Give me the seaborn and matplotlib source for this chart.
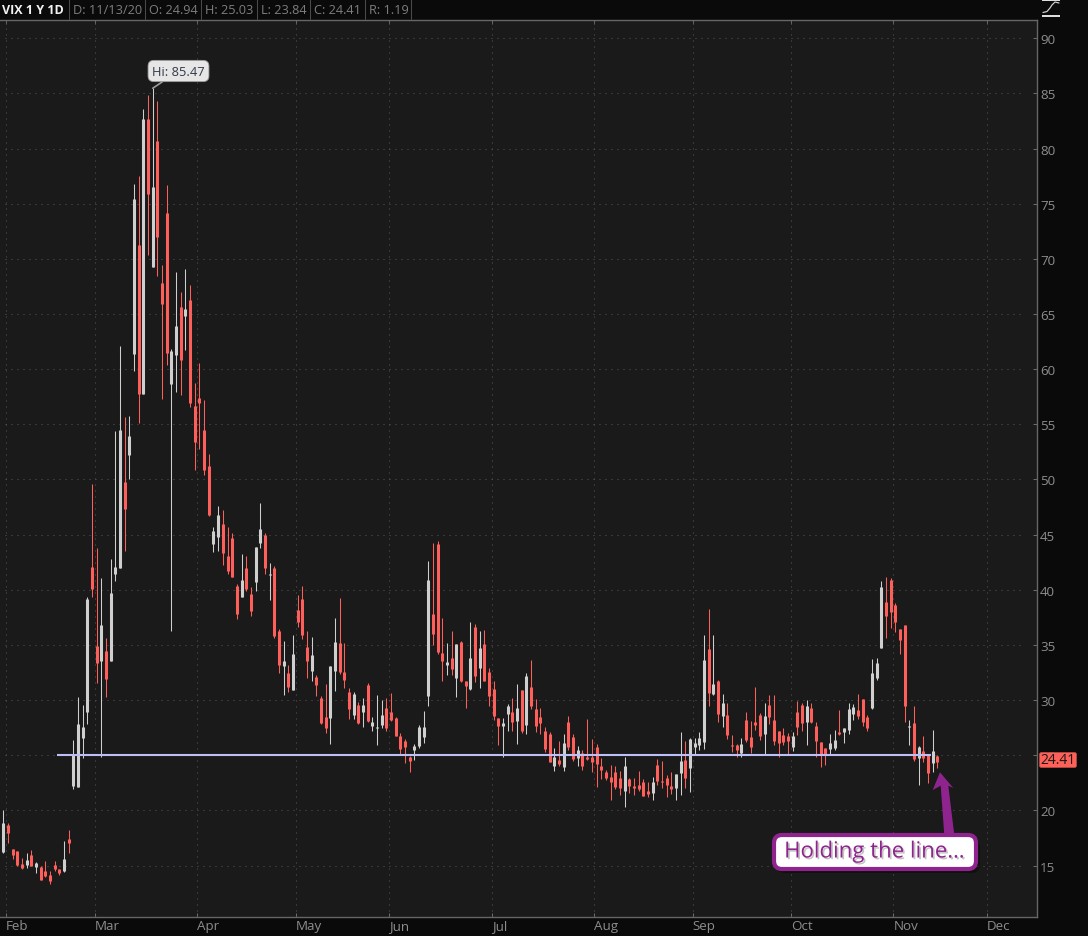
import matplotlib
matplotlib.use("Agg")
import matplotlib.pyplot as plt
import matplotlib.patheffects as pe
from matplotlib.patches import FancyBboxPatch, Polygon, Rectangle
from matplotlib.lines import Line2D
from matplotlib.transforms import Affine2D
import numpy as np
import pandas as pd
import seaborn as sns

# ---- data (VIX daily candles) ----
opens = [16.2,18.67,16.5,16.3,15.12,15.03,15.94,14.85,14.85,14.48,
14.12,15.03,14.67,14.48,17.4,22.2,22.15,26.58,28.88,42.03,
34.94,33.58,34.48,33.58,41.4,41.97,49.76,52.2,61.4,71.3,
57.75,82.67,69.3,80.67,67.85,74.12,58.67,61.3,65.67,64.85,
66.3,56.67,57.4,54.5,51.2,44.12,44.76,45.94,43.03,44.67,
40.3,39.39,41.94,39.58,40.67,44.2,44.94,41.36,41.94,36.3,
33.12,32.48,30.94,38.2,39.2,34.85,32.67,32.12,30.2,28.45,
28.4,32.67,35.2,32.58,30.76,28.67,29.58,28.94,31.4,27.67,
27.5,27.76,29.3,28.94,28.4,26.76,26.3,24.85,25.48,25.85,
26.67,30.4,37.76,44.12,34.3,33.2,33.85,32.03,35.3,31.76,
31.03,36.67,32.94,35.12,32.58,31.03,28.4,27.67,28.76,28.94,
28.12,30.94,27.76,31.2,29.2,28.48,27.2,26.94,24.03,24.58,
23.94,28.03,26.67,24.76,25.2,24.85,24.85,25.76,24.03,23.48,
23.03,23.48,22.94,21.76,22.85,22.2,22.3,22.58,21.76,21.58,
24.12,22.62,22.94,22.2,22.03,23.39,24.58,23.85,25.76,25.94,
26.2,34.67,30.58,31.76,28.58,28.67,25.95,25.94,25.2,28.2,
26.67,28.03,28.67,26.94,29.58,28.2,27.2,26.85,26.76,25.76,
28.94,29.58,28.03,29.3,27.67,26.2,25.67,25.58,25.67,27.12,
27.12,27.3,28.76,29.12,30.12,28.48,29.3,32.03,34.73,38.85,
40.85,38.58,36.48,36.82,27.52,27.9,24.76,25.4,25.0,24.3,
24.94]
highs = [20.0,18.9,16.5,16.3,15.65,16.18,16.45,15.3,14.95,15.45,
14.55,15.45,14.73,17.18,18.18,26.36,30.27,29.55,39.36,49.55,
43.82,41.1,35.64,42.82,54.4,62.12,55.64,55.76,76.82,77.55,
83.58,84.85,85.47,84.27,69.45,76.73,61.85,68.8,67.0,69.1,
67.64,58.73,60.55,57.18,52.27,45.7,47.55,47.27,45.73,45.12,
40.55,43.27,43.03,40.27,43.85,47.85,45.12,42.45,42.12,36.45,
35.36,33.18,35.9,39.5,40.36,36.27,35.73,32.3,30.4,31.45,
33.12,37.48,39.27,35.18,31.1,30.76,29.8,30.2,31.55,28.5,
30.5,29.97,30.15,30.64,28.5,27.0,26.45,24.9,26.03,27.73,
29.03,42.64,44.2,44.45,37.45,35.18,36.24,35.12,35.33,31.76,
37.1,36.9,36.27,36.36,32.9,31.7,28.4,28.36,29.64,30.18,
31.45,30.94,32.45,33.64,30.1,29.3,27.58,27.12,25.64,26.3,
26.9,28.55,26.9,25.82,25.48,28.27,26.45,26.0,24.76,23.67,
24.1,24.0,23.55,24.88,22.94,22.94,23.55,22.82,22.55,23.0,
24.64,24.45,23.18,23.45,23.3,27.1,26.27,26.6,26.55,27.1,
35.9,38.27,35.9,31.8,30.55,29.73,26.82,26.03,26.55,28.9,
28.1,31.18,28.8,29.73,30.45,30.45,27.2,27.45,27.06,27.1,
29.9,29.73,30.03,29.73,27.97,26.2,25.67,26.9,27.3,29.1,
27.48,29.73,29.67,30.55,30.12,28.67,33.73,33.82,40.82,41.18,
41.1,38.82,36.48,36.82,28.15,29.45,25.82,26.7,25.0,27.27,
25.03]
lows = [16.1,17.05,15.6,15.0,14.7,14.8,14.94,14.33,13.67,13.97,
13.33,14.5,14.18,14.42,16.15,21.97,22.15,24.73,27.8,39.36,
31.55,24.88,30.27,33.5,40.82,41.97,43.5,50.0,59.8,55.1,
57.75,70.36,69.3,68.48,57.33,60.42,36.24,57.9,57.64,61.7,
56.55,50.88,52.73,50.4,46.7,43.4,43.5,42.27,41.42,41.12,
37.33,39.33,39.85,37.6,39.85,43.8,41.42,39.06,35.6,32.5,
30.5,30.7,30.94,36.6,35.55,32.0,31.7,30.33,27.85,27.0,
26.0,30.8,32.33,31.06,28.33,28.33,27.8,27.6,27.97,27.2,
25.9,27.45,27.24,28.1,26.7,25.0,24.33,23.5,24.6,25.7,
26.1,29.42,34.97,34.2,31.7,32.24,32.24,30.24,31.6,29.24,
30.94,31.6,31.06,31.76,29.5,28.15,25.9,24.88,27.24,27.24,
26.06,27.06,26.88,29.15,27.15,26.97,25.33,24.36,23.6,24.03,
23.6,25.48,24.48,24.03,23.7,24.58,23.5,22.15,22.85,22.76,
20.97,21.97,21.42,20.27,21.55,21.42,21.8,21.3,21.2,20.94,
22.3,22.03,21.2,21.5,20.94,21.4,22.03,21.67,25.0,25.48,
25.6,29.5,30.48,28.03,27.58,26.48,25.3,24.88,24.8,26.2,
25.24,27.3,26.4,25.1,27.85,25.97,24.88,25.97,25.03,25.36,
26.85,27.24,25.97,27.9,24.88,23.97,24.15,25.12,25.48,26.8,
26.15,26.94,28.2,28.3,27.67,27.2,29.18,31.85,34.73,35.6,
36.55,36.18,34.18,28.0,25.97,24.48,22.33,24.36,22.5,23.5,
23.84]
closes = [18.85,17.97,15.95,15.03,14.82,15.48,14.97,15.2,13.7,14.03,
13.58,14.73,14.3,15.58,17.03,25.03,27.85,27.58,39.2,40.03,
33.4,36.85,31.94,39.67,42.03,54.46,47.3,53.9,75.47,57.75,
82.67,75.85,76.48,71.94,65.94,61.48,61.67,63.88,60.85,65.48,
56.94,53.39,56.9,50.85,46.76,45.3,46.76,43.3,41.67,41.12,
37.76,40.85,40.03,38.12,43.85,45.48,41.94,41.44,35.85,33.2,
33.58,31.2,34.2,37.12,35.94,33.58,34.12,31.4,27.94,27.48,
33.12,35.3,32.58,31.85,29.2,30.58,27.94,29.58,28.12,28.03,
27.6,28.67,27.48,28.2,26.76,25.58,25.76,24.48,25.85,27.58,
27.58,40.85,36.03,34.4,33.58,33.48,32.85,35.12,31.76,31.3,
33.85,32.2,34.76,31.76,30.4,28.58,27.67,27.94,29.48,28.03,
29.3,27.2,32.2,29.48,27.67,27.94,25.58,24.4,24.85,24.18,
26.12,25.76,24.67,25.48,24.03,24.67,24.4,24.2,23.67,22.94,
22.58,22.12,22.03,24.03,22.2,22.03,21.94,21.3,21.48,22.58,
22.67,22.53,22.3,21.94,23.3,24.48,22.94,26.48,26.12,26.58,
33.67,30.67,31.48,28.76,29.76,26.85,25.85,25.48,26.03,26.4,
25.76,27.76,26.76,28.58,28.48,26.3,26.12,26.2,26.3,26.76,
27.58,27.94,29.48,28.03,26.3,25.03,25.03,26.12,26.4,26.94,
27.48,29.2,29.4,28.58,28.03,27.48,32.48,33.39,40.27,37.58,
37.94,37.12,35.48,29.48,27.62,24.67,25.76,24.73,23.39,25.4,
24.41]
month_labels = ["Feb","Mar","Apr","May","Jun","Jul","Aug","Sep","Oct","Nov","Dec"]
month_index = [1,20,42,63,83,105,127,148,169,191,211]
price_ticks = list(range(15, 95, 5))
support_level = 25.02
header_cells = ["D: 11/13/20","O: 24.94","H: 25.03","L: 23.84","C: 24.41","R: 1.19"]

# ---- styling ----
BG, PANEL = "#0a0a0a", "#1a1a1a"
RED, GREY = "#ff5f5a", "#cfcfcf"
PURPLE = "#90248f"
sns.set_theme(style="dark", rc={"axes.facecolor": PANEL, "figure.facecolor": BG})
plt.rcParams["font.family"] = ["Open Sans", "DejaVu Sans"]

fig = plt.figure(figsize=(10.88, 9.37), dpi=100, facecolor=BG)
ax = fig.add_axes([0, (937-917.5)/937, 1036.5/1088, (917.5-20.5)/937])
ax.set_facecolor(PANEL)
px = Affine2D().scale(1/1088, -1/937).translate(0, 1) + fig.transFigure

# long tables for seaborn
n = len(opens)
idx = np.arange(n)
o, h, l, c = map(np.array, (opens, highs, lows, closes))
kind = np.where(c >= o, "up", "down")
wicks = pd.DataFrame({"i": np.r_[idx, idx], "price": np.r_[l, h], "kind": np.r_[kind, kind]})
bodies = pd.DataFrame({"i": np.r_[idx, idx], "price": np.r_[o, c], "kind": np.r_[kind, kind]})
pal = {"up": GREY, "down": RED}

# grid (behind the candles)
grid_kw = dict(colors="#565656", linewidth=0.72, linestyles=[(0, (1, 5))], zorder=1)
ax.hlines(price_ticks, 0.4, 218.5, **grid_kw)
ax.vlines(np.array(month_index) - 0.43, 10.38, 91.7, **grid_kw)

sns.lineplot(data=wicks, x="i", y="price", hue="kind", units="i", estimator=None, sort=False,
             palette=pal, lw=0.75, legend=False, ax=ax, solid_capstyle="butt", zorder=3)
sns.lineplot(data=bodies, x="i", y="price", hue="kind", units="i", estimator=None, sort=False,
             palette=pal, lw=2.2, legend=False, ax=ax, solid_capstyle="butt", zorder=4)

ax.hlines(support_level, 11.5, 198.6, colors="#bcbff8", linewidth=1.5, zorder=5)

ax.set_xlim(-0.707, 221.2)
ax.set_ylim(10.38, 91.7)
ax.set_xlabel(""); ax.set_ylabel("")
ax.yaxis.tick_right()
ax.set_yticks(price_ticks)
ax.set_yticklabels([str(v) for v in price_ticks])
ax.set_xticks(np.array(month_index) - 0.43)
ax.set_xticklabels(month_labels, ha="left")
ax.tick_params(axis="y", direction="in", length=3, width=0.75, color="#6a6a6a",
               labelcolor="#8d8d8d", labelsize=9.6, pad=2.5, right=True, left=False)
ax.tick_params(axis="x", direction="in", length=3, width=0.75, color="#6a6a6a",
               labelcolor="#8d8d8d", labelsize=9.6, pad=1.5, bottom=True, top=True)
for s in ax.spines.values():
    s.set_visible(False)
for s in ("top", "bottom", "right"):
    ax.spines[s].set_visible(True)
    ax.spines[s].set_color("#666666")
    ax.spines[s].set_linewidth(1.0)

# high-of-range callout
ax.annotate("Hi: 85.47", xy=(32, 85.47), xycoords="data", xytext=(178.5, 72), textcoords=px,
            ha="center", va="center", fontsize=9.3, color="#33394a", zorder=8,
            bbox=dict(boxstyle="round,pad=0.32,rounding_size=0.45", fc="#e6e6e6", ec="#9a9a9a", lw=0.6),
            arrowprops=dict(arrowstyle="-", color="#9a9a9a", lw=1.2, shrinkA=0, shrinkB=0))

# header bar
fig.text(2/1088, 1-10/937, "VIX 1 Y 1D", fontsize=9.0, fontweight="bold", color="#f2f2f2", va="center")
for label, tx in zip(header_cells, [73, 149, 205, 261, 314, 369]):
    fig.text(tx/1088, 1-10/937, label, fontsize=9.2, color="#7d7d7d", va="center")
for sx in [69, 145, 201, 257, 310, 365, 411]:
    fig.add_artist(Line2D([sx, sx], [0, 20], transform=px, color="#4a4a4a", lw=0.75))

# study icon, top right
fig.add_artist(Rectangle((1042, 0), 18, 2, transform=px, fc="#dddddd", ec="none"))
fig.add_artist(Rectangle((1042, 15.5), 18, 2, transform=px, fc="#dddddd", ec="none"))
fig.add_artist(Line2D([1043, 1047, 1050, 1052, 1055, 1059], [13.5, 12.5, 9, 6, 3, 4],
                      transform=px, color="#cccccc", lw=0.9))

# last price tag
fig.add_artist(FancyBboxPatch((1039.5, 753.5), 37, 15, transform=px, zorder=6,
                              boxstyle="round,pad=0,rounding_size=2", fc="#ff6058", ec="#b04a45", lw=0.6))
fig.text(1058/1088, 1-761/937, "24.41", fontsize=10, color="#1a1a1a", ha="center", va="center", zorder=7)

# purple annotation
fig.add_artist(FancyBboxPatch((777, 841), 203, 33, transform=px, zorder=6,
                              boxstyle="round,pad=0,rounding_size=8", fc="#000000", ec="none", alpha=0.35))
arrow = [(940, 773.3), (953.3, 789), (948.3, 786.7), (954.3, 836), (944.3, 836), (940.7, 786.7), (932.7, 791)]
fig.add_artist(Polygon(arrow, closed=True, transform=px, fc=PURPLE, ec="none", zorder=6.5))
fig.add_artist(FancyBboxPatch((774, 836), 202, 34, transform=px, zorder=7,
                              boxstyle="round,pad=0,rounding_size=8", fc="white", ec=PURPLE, lw=3.0))
fig.text(874.5/1088, 1-853/937, "Holding the line…", fontsize=16, color=PURPLE, ha="center", va="center",
         zorder=8, family=["Open Sans", "DejaVu Sans"],
         path_effects=[pe.SimplePatchShadow(offset=(1.2, -1.2), shadow_rgbFace="#aaaaaa", alpha=0.7), pe.Normal()])

fig.savefig("out.png", dpi=100, facecolor=BG)
